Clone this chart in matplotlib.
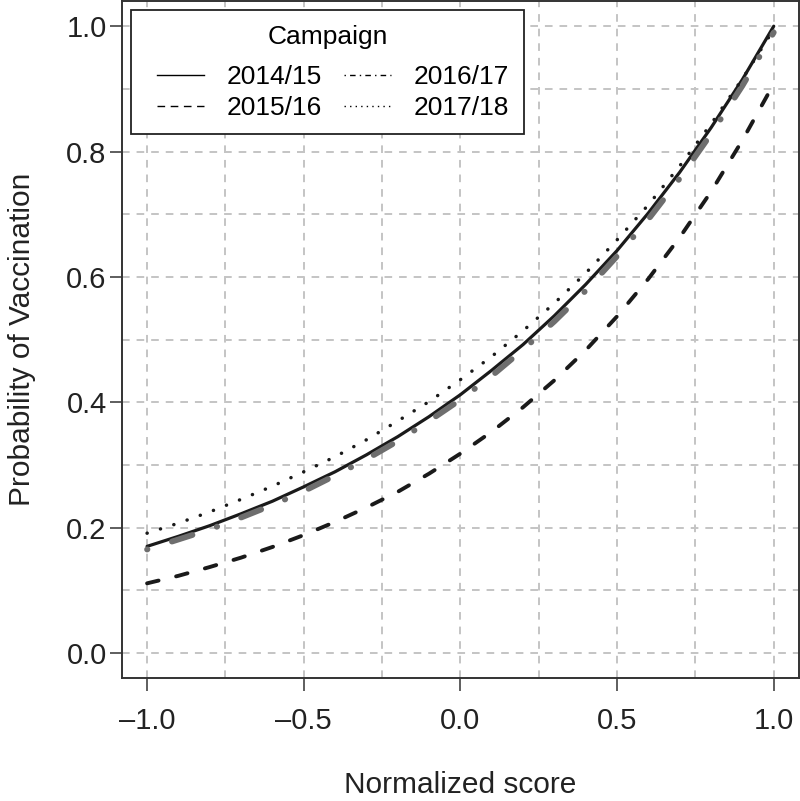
import numpy as np
import matplotlib
matplotlib.use("Agg")
import matplotlib.pyplot as plt
from matplotlib.lines import Line2D
from matplotlib.legend_handler import HandlerLine2D

matplotlib.rc("font", family="Liberation Sans")
matplotlib.rc("lines", scale_dashes=False)

# values
score = [-1.0, -0.9, -0.8, -0.7, -0.6, -0.5, -0.4, -0.3, -0.2, -0.1, 0.0,
         0.1, 0.2, 0.3, 0.4, 0.5, 0.6, 0.7, 0.8, 0.9, 1.0]
p_1415 = [0.170, 0.186, 0.203, 0.222, 0.242, 0.265, 0.289, 0.316, 0.345, 0.377, 0.412,
          0.451, 0.492, 0.538, 0.588, 0.642, 0.702, 0.767, 0.838, 0.915, 1.000]
p_1516 = [0.111, 0.123, 0.137, 0.152, 0.169, 0.188, 0.209, 0.232, 0.257, 0.286, 0.318,
          0.353, 0.392, 0.435, 0.483, 0.537, 0.597, 0.663, 0.736, 0.818, 0.908]
p_1617 = [0.165, 0.181, 0.197, 0.216, 0.236, 0.258, 0.283, 0.309, 0.338, 0.370, 0.404,
          0.442, 0.484, 0.529, 0.578, 0.633, 0.692, 0.757, 0.828, 0.905, 0.990]
p_1718 = [0.191, 0.207, 0.225, 0.245, 0.266, 0.289, 0.313, 0.340, 0.370, 0.401, 0.436,
          0.473, 0.514, 0.558, 0.606, 0.659, 0.715, 0.777, 0.844, 0.916, 0.995]
campaigns = ["2014/15", "2015/16", "2016/17", "2017/18"]

xticks = [-1.0, -0.5, 0.0, 0.5, 1.0]
yticks = [0.0, 0.2, 0.4, 0.6, 0.8, 1.0]

fig = plt.figure(figsize=(8, 8.01), dpi=100)
ax = fig.add_axes([0.1525, 0.1536, 0.846, 0.845])

# dashed light grey grid
gkw = dict(color="#c4c4c4", lw=1.4, dashes=(5.5, 5), zorder=0)
for gx in np.arange(-1, 1.01, 0.25):
    ax.axvline(gx, **gkw)
for gy in np.arange(0, 1.01, 0.1):
    ax.axhline(gy, **gkw)

ax.plot(score, p_1415, color="#1a1a1a", lw=2.3, solid_capstyle="round", zorder=3)
ax.plot(score, p_1516, color="#1a1a1a", lw=2.8, dashes=(8.5, 13), dash_capstyle="round", zorder=3)
ax.plot(score, p_1617, color="#6e6e6e", lw=4.2, dashes=(0.3, 18.5, 15.5, 18.5),
        dash_capstyle="round", zorder=4)
ax.plot(score, p_1718, color="#1a1a1a", lw=2.5, dashes=(0.1, 10), dash_capstyle="round", zorder=5)

ax.set_xlim(-1.08, 1.08)
ax.set_ylim(-0.04, 1.04)
ax.set_xticks(xticks)
ax.set_yticks(yticks)
ax.set_xticklabels([("%.1f" % v).replace("-", "\u2013") for v in xticks])
ax.set_yticklabels(["%.1f" % v for v in yticks])
ax.tick_params(axis="both", direction="out", length=9, width=1.1, color="#333333",
               labelsize=21, labelcolor="#222222")
ax.tick_params(axis="x", pad=12)
ax.tick_params(axis="y", pad=2)
for s in ax.spines.values():
    s.set_linewidth(1.4)
    s.set_color("#333333")

ax.set_xlabel("Normalized score", fontsize=21.5, color="#222222", labelpad=26)
ax.set_ylabel("Probability of Vaccination", fontsize=21.5, color="#222222", labelpad=22)

handles = [Line2D([], [], color="k", lw=1),
           Line2D([], [], color="k", lw=1, dashes=(5.5, 4)),
           Line2D([], [], color="k", lw=1, dashes=(1, 3, 4, 3)),
           Line2D([], [], color="k", lw=1, dashes=(1, 3))]
hmap = {h: HandlerLine2D(xpad=0.42) for h in handles}
leg = ax.legend(handles, campaigns, ncol=2, loc="upper left", title="Campaign",
                fontsize=19, title_fontsize=19, frameon=True, fancybox=False,
                edgecolor="#222222", framealpha=1, borderaxespad=0.34,
                handlelength=2.2, handletextpad=0.87, columnspacing=0.42,
                borderpad=0.55, labelspacing=0.25, handler_map=hmap)
leg.get_frame().set_linewidth(1.3)
leg._legend_box.sep = 12
leg.set_zorder(10)

fig.savefig("out.png", dpi=100)
